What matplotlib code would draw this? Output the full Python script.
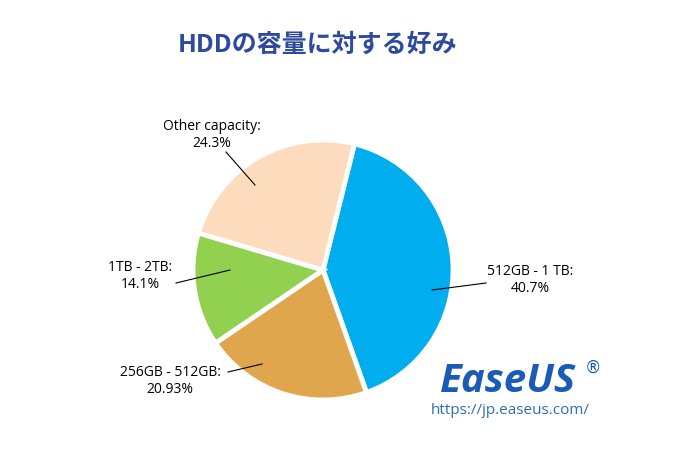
import matplotlib
matplotlib.use("Agg")
import matplotlib.pyplot as plt

plt.rcParams['font.family'] = ['Noto Sans CJK JP', 'DejaVu Sans']

categories = ["512GB - 1 TB", "256GB - 512GB", "1TB - 2TB", "Other capacity"]
values = [40.7, 20.93, 14.1, 24.3]
value_labels = ["40.7%", "20.93%", "14.1%", "24.3%"]
colors = ["#00AEEF", "#E0A64E", "#92D050", "#FDDCBD"]

W, H = 691, 474
fig = plt.figure(figsize=(W/100, H/100), dpi=100)
ax = fig.add_axes([0, 0, 1, 1])

def Y(y): return H - y

ax.pie(values, colors=colors, startangle=76, counterclock=False,
       center=(323, Y(270)), radius=130, explode=[0.05, 0, 0, 0],
       wedgeprops=dict(edgecolor='white', linewidth=3.5), frame=True)
ax.set_xlim(0, W); ax.set_ylim(0, H); ax.axis('off'); ax.set_aspect('equal')

place = [((530, 280), (486, 283), (432, 290)),
         ((170, 381), (228, 372), (262, 364)),
         ((140, 276), (176, 283), (230, 270)),
         ((212, 135), (226, 152), (255, 185))]
for cat, vl, (tp, ls, le) in zip(categories, value_labels, place):
    ax.text(tp[0], Y(tp[1]), f"{cat}:\n{vl}", ha='center', va='center',
            fontsize=10, linespacing=1.15, color='black', family=['Open Sans', 'DejaVu Sans'])
    ax.plot([ls[0], le[0]], [Y(ls[1]), Y(le[1])], color='black', lw=0.8)

ax.text(318, Y(45), "HDDの容量に対する好み", ha='center', va='center',
        fontsize=18, fontweight='bold', color='#2E4A9E')
ax.text(508, Y(382), "EaseUS", ha='center', va='center', fontsize=29,
        fontweight='bold', style='italic', color='#1A5BB8', family=['Open Sans'])
ax.text(593, Y(368), "®", ha='center', va='center', fontsize=12, color='#1A5BB8',
        family=['DejaVu Sans'])
ax.text(510, Y(411), "https://jp.easeus.com/", ha='center', va='center',
        fontsize=11, color='#2E6DB4', family=['Open Sans'])

fig.savefig("out.png", dpi=100)
